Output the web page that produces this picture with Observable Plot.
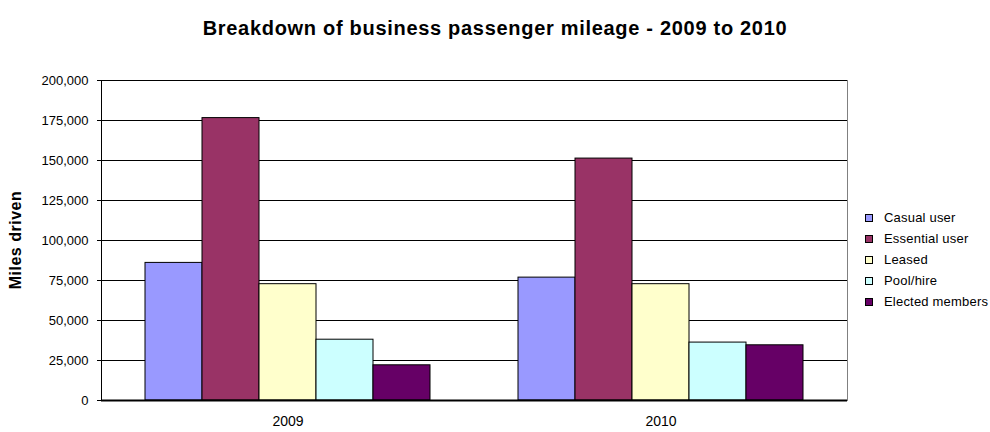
<!DOCTYPE html>
<html>
<head>
<meta charset="utf-8">
<script src="https://cdn.jsdelivr.net/npm/d3@7"></script>
<script src="https://cdn.jsdelivr.net/npm/@observablehq/plot@0.6"></script>
<style>
  html, body { margin: 0; padding: 0; background: #fff; }
  #wrap { position: relative; width: 990px; height: 432px; font-family: "Liberation Sans", Arial, sans-serif; overflow: hidden; }
  #title { position: absolute; left: 0; width: 990px; top: 17px; text-align: center; font-weight: bold; font-size: 20px; letter-spacing: 0.7px; color: #000; line-height: 22px; }
  #ylabel { position: absolute; left: 16px; top: 240px; transform: translate(-50%, -50%) rotate(-90deg); font-weight: bold; font-size: 16px; letter-spacing: 0.5px; white-space: nowrap; }
  #legend { position: absolute; left: 865px; top: 207px; width: 130px; font-size: 13px; letter-spacing: 0.2px; white-space: nowrap; }
  .item { height: 21px; display: flex; align-items: center; white-space: nowrap; }
  .sw { flex: none; width: 6px; height: 6px; border: 1px solid #000; margin-right: 11px; }
</style>
</head>
<body>
<div id="wrap">
  <div id="chart"></div>
  <div id="title">Breakdown of business passenger mileage - 2009 to 2010</div>
  <div id="ylabel">Miles driven</div>
  <div id="legend"></div>
</div>
<script>
const years = ["2009", "2010"];
const series = ["Casual user", "Essential user", "Leased", "Pool/hire", "Elected members"];
const colors = ["#9999FF", "#993366", "#FFFFCC", "#CCFFFF", "#660066"];
const values2009 = [86000, 176500, 72700, 38000, 22000];
const values2010 = [76800, 151200, 72700, 36200, 34500];
const yTicks = [0, 25000, 50000, 75000, 100000, 125000, 150000, 175000, 200000];

const data = [];
series.forEach((s, i) => {
  data.push({year: years[0], series: s, value: values2009[i]});
  data.push({year: years[1], series: s, value: values2010[i]});
});

const chart = Plot.plot({
  width: 990,
  height: 432,
  marginLeft: 100,
  marginRight: 143,
  marginTop: 80,
  marginBottom: 32,
  style: {fontFamily: "'Liberation Sans', Arial, sans-serif", fontSize: "13px", color: "#000", background: "#fff"},
  fx: {domain: years, padding: 0, label: null},
  x: {domain: series, paddingInner: 0, paddingOuter: 0.745, axis: null},
  y: {domain: [0, 200000], ticks: yTicks, label: null},
  color: {domain: series, range: colors},
  marks: [
    Plot.ruleY(yTicks, {stroke: "#000", strokeWidth: 1}),
    Plot.frame({anchor: "left", facetAnchor: "left", stroke: "#000"}),
    Plot.frame({anchor: "right", facetAnchor: "right", stroke: "#808080"}),
    Plot.barY(data, {fx: "year", x: "series", y: "value", fill: "series", stroke: "#000", strokeWidth: 1}),
    Plot.ruleY([0], {stroke: "#000", strokeWidth: 2}),
    Plot.axisY(yTicks, {tickSize: 4, tickPadding: 9, tickFormat: d3.format(","), label: null}),
    Plot.axisFx({anchor: "bottom", tickSize: 0, tickPadding: 16, fontSize: 14, label: null})
  ]
});
document.getElementById("chart").appendChild(chart);

const legend = document.getElementById("legend");
series.forEach((s, i) => {
  const item = document.createElement("div");
  item.className = "item";
  const sw = document.createElement("div");
  sw.className = "sw";
  sw.style.background = colors[i];
  const t = document.createElement("span");
  t.textContent = s;
  item.appendChild(sw);
  item.appendChild(t);
  legend.appendChild(item);
});
</script>
</body>
</html>
